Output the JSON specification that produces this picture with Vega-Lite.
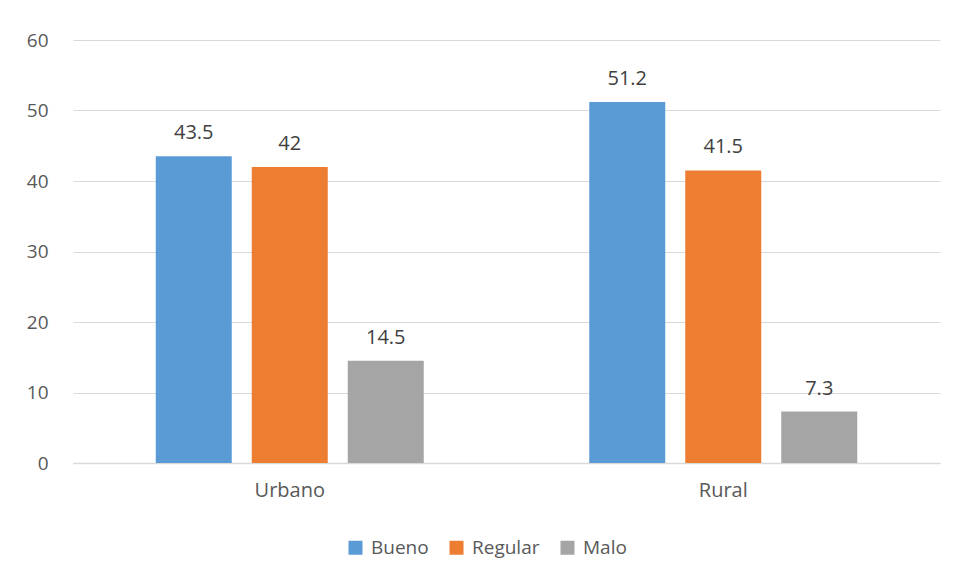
{
  "$schema": "https://vega.github.io/schema/vega-lite/v6.json",
  "width": 867,
  "height": 423,
  "autosize": {"type": "none"},
  "padding": {"left": 73, "top": 40, "right": 18, "bottom": 117},
  "background": "white",
  "data": {
    "values": [
      {"area": "Urbano", "cond": "Bueno", "value": 43.5},
      {"area": "Urbano", "cond": "Regular", "value": 42},
      {"area": "Urbano", "cond": "Malo", "value": 14.5},
      {"area": "Rural", "cond": "Bueno", "value": 51.2},
      {"area": "Rural", "cond": "Regular", "value": 41.5},
      {"area": "Rural", "cond": "Malo", "value": 7.3}
    ]
  },
  "encoding": {
    "x": {
      "field": "area",
      "type": "nominal",
      "sort": ["Urbano", "Rural"],
      "scale": {"paddingInner": 0, "paddingOuter": 0},
      "axis": {
        "title": null,
        "labelAngle": 0,
        "ticks": false,
        "domain": true,
        "domainColor": "#d9d9d9",
        "domainWidth": 1.5,
        "labelPadding": 17,
        "labelFontSize": 20,
        "labelColor": "#595959",
        "labelFont": "Open Sans"
      }
    },
    "xOffset": {
      "field": "cond",
      "type": "nominal",
      "sort": ["Bueno", "Regular", "Malo"],
      "scale": {"paddingInner": 0.2083, "paddingOuter": 0.862}
    },
    "y": {
      "field": "value",
      "type": "quantitative",
      "scale": {"domain": [0, 60]},
      "axis": {
        "title": null,
        "values": [0, 10, 20, 30, 40, 50, 60],
        "ticks": false,
        "domain": false,
        "grid": true,
        "gridColor": "#d9d9d9",
        "gridWidth": 1.2,
        "labelPadding": 25,
        "labelFontSize": 19,
        "labelColor": "#595959",
        "labelFont": "Open Sans"
      }
    }
  },
  "layer": [
    {
      "mark": {"type": "bar"},
      "encoding": {
        "color": {
          "field": "cond",
          "type": "nominal",
          "sort": ["Bueno", "Regular", "Malo"],
          "scale": {
            "domain": ["Bueno", "Regular", "Malo"],
            "range": ["#5b9bd5", "#ed7d31", "#a5a5a5"]
          },
          "legend": {
            "title": null,
            "orient": "none",
            "direction": "horizontal",
            "legendX": 273,
            "legendY": 498,
            "padding": 0,
            "symbolType": "square",
            "symbolSize": 196,
            "symbolStrokeWidth": 0,
            "symbolOpacity": 1,
            "labelOffset": 6,
            "columnPadding": 18,
            "labelFontSize": 19,
            "labelColor": "#595959",
            "labelFont": "Open Sans"
          }
        }
      }
    },
    {
      "mark": {
        "type": "text",
        "baseline": "alphabetic",
        "dy": -17,
        "fontSize": 20,
        "font": "Open Sans",
        "color": "#404040"
      },
      "encoding": {
        "text": {"field": "value", "type": "quantitative"}
      }
    }
  ],
  "config": {
    "view": {"stroke": null}
  }
}
